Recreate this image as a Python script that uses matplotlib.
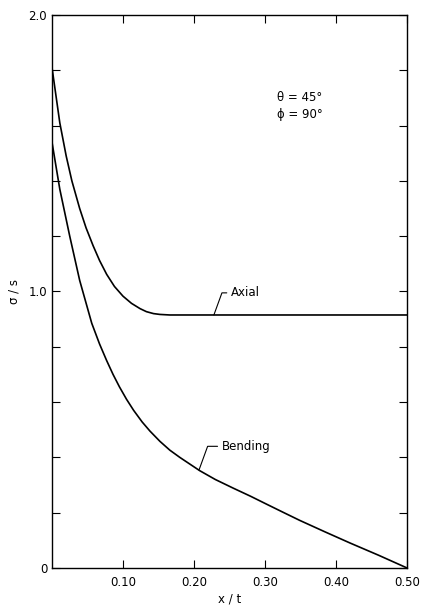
import matplotlib
matplotlib.use("Agg")
import matplotlib.pyplot as plt

# --- data ---
axial_x = [0.0, 0.011, 0.020, 0.028, 0.039, 0.048, 0.058, 0.067, 0.077, 0.088,
           0.100, 0.112, 0.124, 0.133, 0.143, 0.152, 0.166, 0.50]
axial_y = [1.81, 1.61, 1.49, 1.40, 1.30, 1.23, 1.165, 1.112, 1.062, 1.018,
           0.983, 0.957, 0.938, 0.927, 0.920, 0.917, 0.915, 0.915]

bending_x = [0.0, 0.011, 0.025, 0.039, 0.056, 0.067, 0.077, 0.086, 0.095, 0.105,
             0.115, 0.127, 0.138, 0.152, 0.166, 0.180, 0.208, 0.230, 0.255,
             0.280, 0.302, 0.325, 0.349, 0.385, 0.420, 0.460, 0.500]
bending_y = [1.54, 1.37, 1.20, 1.04, 0.885, 0.81, 0.75, 0.70, 0.655, 0.61,
             0.57, 0.528, 0.495, 0.458, 0.426, 0.400, 0.352, 0.320, 0.289,
             0.259, 0.231, 0.202, 0.172, 0.130, 0.090, 0.046, 0.0]

x_ticks = [0.1, 0.2, 0.3, 0.4, 0.5]
x_labels = ["0.10", "0.20", "0.30", "0.40", "0.50"]
y_ticks = [0.0, 0.2, 0.4, 0.6, 0.8, 1.0, 1.2, 1.4, 1.6, 1.8, 2.0]
y_labels = ["0", "", "", "", "", "1.0", "", "", "", "", "2.0"]

fig = plt.figure(figsize=(4.22, 6.07), dpi=100)
ax = fig.add_axes([0.1232, 0.0643, 0.8413, 0.911])

ax.plot(axial_x, axial_y, color="black", lw=1.2)
ax.plot(bending_x, bending_y, color="black", lw=1.2)

ax.set_xlim(0, 0.5)
ax.set_ylim(0, 2.0)
ax.set_xticks(x_ticks)
ax.set_xticklabels(x_labels)
ax.set_yticks(y_ticks)
ax.set_yticklabels(y_labels)
ax.tick_params(direction="in", length=6, width=0.8, labelsize=8.5,
               top=True, right=True)
ax.tick_params(axis="x", pad=6)
for s in ax.spines.values():
    s.set_linewidth(1.0)

ax.set_xlabel("x / t", fontsize=8.5, labelpad=2)
ax.set_ylabel("σ / s", fontsize=8.5, labelpad=6)

# curve labels with leader lines
ax.annotate("Axial", xy=(0.228, 0.915), xytext=(0.252, 0.995),
            fontsize=8.5, va="center", ha="left",
            arrowprops=dict(arrowstyle="-", color="black", lw=0.8,
                            connectionstyle="angle,angleA=0,angleB=70,rad=0",
                            shrinkA=1, shrinkB=0))
ax.annotate("Bending", xy=(0.207, 0.354), xytext=(0.239, 0.44),
            fontsize=8.5, va="center", ha="left",
            arrowprops=dict(arrowstyle="-", color="black", lw=0.8,
                            connectionstyle="angle,angleA=0,angleB=70,rad=0",
                            shrinkA=1, shrinkB=0))

ax.text(0.317, 1.70, "θ = 45°", fontsize=8.5, va="center")
ax.text(0.317, 1.64, "ϕ = 90°", fontsize=8.5, va="center")

fig.savefig("out.png", dpi=100)
